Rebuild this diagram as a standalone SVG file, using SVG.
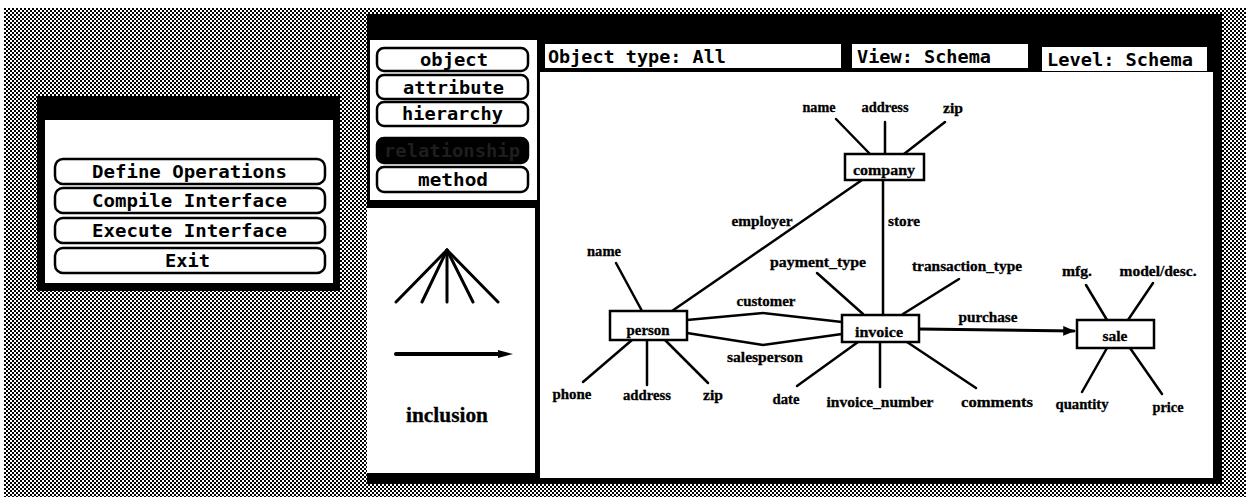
<svg xmlns="http://www.w3.org/2000/svg" width="1246" height="497" viewBox="0 0 1246 497">
  <defs>
    <!-- halftone desktop background -->
    <pattern id="dither" width="4" height="4" patternUnits="userSpaceOnUse">
      <rect width="4" height="4" fill="#ffffff"/>
      <rect width="2" height="2" fill="#000000"/>
      <rect x="2" y="2" width="2" height="2" fill="#000000"/>
    </pattern>
    <marker id="head" viewBox="0 0 10 10" refX="9" refY="5" markerWidth="4" markerHeight="4" orient="auto" markerUnits="strokeWidth">
      <path d="M0,1 L10,5 L0,9 Z" fill="#000"/>
    </marker>
    <style>
      .btn { fill: #fff; stroke: #000; stroke-width: 2.5; }
      .btn-on { fill: #000; stroke: #000; stroke-width: 2.5; }
      .mono { font-family: "DejaVu Sans Mono", "Liberation Mono", monospace; font-weight: bold; font-size: 17px; fill: #000; }
      .lbl { font-family: "Liberation Serif", "DejaVu Serif", serif; font-weight: bold; font-size: 15px; fill: #000; stroke: #000; stroke-width: 0.3; text-anchor: middle; }
      .ent { fill: #fff; stroke: #000; stroke-width: 2.5; }
      .edge { stroke: #000; stroke-width: 2.5; fill: none; stroke-linecap: round; }
      .panel { fill: #fff; }
    </style>
  </defs>

  <!-- desktop -->
  <rect x="0" y="0" width="1246" height="497" fill="#fff"/>
  <rect x="4" y="8" width="1242" height="489" fill="url(#dither)"/>

  <!-- small control window -->
  <g id="control-window">
    <rect x="37" y="96" width="303" height="195" fill="#000"/>
    <rect x="45" y="120" width="288" height="163" class="panel"/>
    <g id="btn-define">
      <rect x="55" y="159" width="270" height="25" rx="8" class="btn"/>
      <text x="92" y="178" class="mono" textLength="195" lengthAdjust="spacingAndGlyphs">Define Operations</text>
    </g>
    <g id="btn-compile">
      <rect x="55" y="188" width="270" height="25" rx="8" class="btn"/>
      <text x="92" y="207" class="mono" textLength="195" lengthAdjust="spacingAndGlyphs">Compile Interface</text>
    </g>
    <g id="btn-execute">
      <rect x="55" y="218" width="270" height="25" rx="8" class="btn"/>
      <text x="92" y="237" class="mono" textLength="195" lengthAdjust="spacingAndGlyphs">Execute Interface</text>
    </g>
    <g id="btn-exit">
      <rect x="55" y="248" width="270" height="25" rx="8" class="btn"/>
      <text x="165" y="267" class="mono" textLength="45" lengthAdjust="spacingAndGlyphs">Exit</text>
    </g>
  </g>

  <!-- main schema window -->
  <g id="schema-window">
    <rect x="367" y="14" width="855" height="470" fill="#000"/>

    <!-- tool palette -->
    <rect x="370" y="40" width="167" height="160" class="panel"/>
    <g id="tool-object">
      <rect x="377" y="48" width="151" height="23" rx="7" class="btn"/>
      <text x="420" y="66" class="mono" textLength="68" lengthAdjust="spacingAndGlyphs">object</text>
    </g>
    <g id="tool-attribute">
      <rect x="377" y="75" width="151" height="24" rx="7" class="btn"/>
      <text x="403" y="94" class="mono" textLength="101" lengthAdjust="spacingAndGlyphs">attribute</text>
    </g>
    <g id="tool-hierarchy">
      <rect x="377" y="102" width="151" height="24" rx="7" class="btn"/>
      <text x="402" y="120" class="mono" textLength="101" lengthAdjust="spacingAndGlyphs">hierarchy</text>
    </g>
    <g id="tool-relationship">
      <rect x="377" y="138" width="151" height="25" rx="7" class="btn-on"/>
      <text x="384" y="157" class="mono" style="fill:#1e1e1e" textLength="136" lengthAdjust="spacingAndGlyphs">relationship</text>
    </g>
    <g id="tool-method">
      <rect x="377" y="167" width="151" height="25" rx="7" class="btn"/>
      <text x="418" y="186" class="mono" textLength="70" lengthAdjust="spacingAndGlyphs">method</text>
    </g>
    <!-- mouse pointer -->
    <path d="M540,156 L549,165 L544,166 L542,171 Z" fill="#000"/>

    <!-- legend panel -->
    <rect x="367" y="208" width="168" height="265" class="panel"/>
    <g id="legend" stroke="#000" stroke-width="3" stroke-linecap="round" fill="none">
      <line x1="447" y1="250" x2="396" y2="302"/>
      <line x1="447" y1="250" x2="422" y2="302"/>
      <line x1="447" y1="250" x2="447" y2="302"/>
      <line x1="447" y1="250" x2="473" y2="302"/>
      <line x1="447" y1="250" x2="498" y2="302"/>
      <line x1="396" y1="354" x2="500" y2="354" stroke-width="4"/>
    </g>
    <path d="M498,350 L513,354 L498,358 Z" fill="#000"/>
    <text x="447" y="422" class="lbl" style="font-size:22px" textLength="82" lengthAdjust="spacingAndGlyphs">inclusion</text>

    <!-- status fields -->
    <g id="field-object-type">
      <rect x="544" y="43" width="298" height="26" fill="#fff" stroke="#000" stroke-width="2"/>
      <text x="548" y="63" class="mono" textLength="178" lengthAdjust="spacingAndGlyphs">Object type: All</text>
    </g>
    <g id="field-view">
      <rect x="851" y="43" width="178" height="26" fill="#fff" stroke="#000" stroke-width="2"/>
      <text x="857" y="63" class="mono" textLength="134" lengthAdjust="spacingAndGlyphs">View: Schema</text>
    </g>
    <g id="field-level">
      <rect x="1041" y="46" width="167" height="26" fill="#fff" stroke="#000" stroke-width="2"/>
      <text x="1047" y="66" class="mono" textLength="146" lengthAdjust="spacingAndGlyphs">Level: Schema</text>
    </g>

    <!-- schema canvas -->
    <rect x="540" y="72" width="673" height="406" class="panel"/>
  </g>

  <!-- connectors -->
  <g id="connectors" class="edge">
    <!-- company attributes -->
    <line x1="836" y1="119" x2="870" y2="154"/>
    <line x1="885" y1="122" x2="885" y2="154"/>
    <line x1="945" y1="122" x2="904" y2="154"/>
    <!-- employer / store -->
    <line x1="862" y1="180" x2="672" y2="311"/>
    <line x1="883" y1="180" x2="883" y2="315"/>
    <!-- person attributes -->
    <line x1="616" y1="263" x2="642" y2="311"/>
    <line x1="583" y1="382" x2="632" y2="340"/>
    <line x1="647" y1="340" x2="647" y2="385"/>
    <line x1="665" y1="340" x2="708" y2="383"/>
    <!-- customer / salesperson -->
    <polyline points="687,320 763,313 842,322"/>
    <polyline points="687,333 763,345 842,334"/>
    <!-- invoice attributes -->
    <line x1="817" y1="273" x2="863" y2="314"/>
    <line x1="959" y1="279" x2="903" y2="314"/>
    <line x1="797" y1="386" x2="858" y2="342"/>
    <line x1="880" y1="342" x2="880" y2="387"/>
    <line x1="907" y1="342" x2="976" y2="388"/>
    <!-- purchase -->
    <line x1="919" y1="329" x2="1074" y2="331" stroke-width="3" marker-end="url(#head)"/>
    <!-- sale attributes -->
    <line x1="1086" y1="285" x2="1107" y2="320"/>
    <line x1="1153" y1="283" x2="1128" y2="320"/>
    <line x1="1082" y1="392" x2="1107" y2="348"/>
    <line x1="1162" y1="394" x2="1130" y2="348"/>
  </g>

  <!-- relationship labels -->
  <g id="edge-labels">
    <text x="762" y="226" class="lbl" textLength="61" lengthAdjust="spacingAndGlyphs">employer</text>
    <text x="904" y="226" class="lbl" textLength="32" lengthAdjust="spacingAndGlyphs">store</text>
    <text x="766" y="306" class="lbl" textLength="59" lengthAdjust="spacingAndGlyphs">customer</text>
    <text x="765" y="362" class="lbl" textLength="76" lengthAdjust="spacingAndGlyphs">salesperson</text>
    <text x="988" y="322" class="lbl" textLength="59" lengthAdjust="spacingAndGlyphs">purchase</text>
  </g>

  <!-- entities -->
  <g id="company">
    <rect x="845" y="154" width="79" height="26" class="ent"/>
    <text x="884" y="175" class="lbl" textLength="62" lengthAdjust="spacingAndGlyphs">company</text>
  </g>
  <g id="person">
    <rect x="610" y="311" width="77" height="29" class="ent"/>
    <text x="648" y="335" class="lbl" textLength="43" lengthAdjust="spacingAndGlyphs">person</text>
  </g>
  <g id="invoice">
    <rect x="842" y="315" width="77" height="27" class="ent"/>
    <text x="879" y="337" class="lbl" textLength="48" lengthAdjust="spacingAndGlyphs">invoice</text>
  </g>
  <g id="sale">
    <rect x="1077" y="320" width="77" height="28" class="ent"/>
    <text x="1115" y="341" class="lbl" textLength="25" lengthAdjust="spacingAndGlyphs">sale</text>
  </g>

  <!-- attributes -->
  <g id="company-attrs">
    <text x="819" y="112" class="lbl" textLength="33" lengthAdjust="spacingAndGlyphs">name</text>
    <text x="885" y="112" class="lbl" textLength="47" lengthAdjust="spacingAndGlyphs">address</text>
    <text x="953" y="113" class="lbl" textLength="20" lengthAdjust="spacingAndGlyphs">zip</text>
  </g>
  <g id="person-attrs">
    <text x="604" y="256" class="lbl" textLength="34" lengthAdjust="spacingAndGlyphs">name</text>
    <text x="572" y="399" class="lbl" textLength="39" lengthAdjust="spacingAndGlyphs">phone</text>
    <text x="647" y="400" class="lbl" textLength="48" lengthAdjust="spacingAndGlyphs">address</text>
    <text x="713" y="400" class="lbl" textLength="20" lengthAdjust="spacingAndGlyphs">zip</text>
  </g>
  <g id="invoice-attrs">
    <text x="818" y="267" class="lbl" textLength="96" lengthAdjust="spacingAndGlyphs">payment_type</text>
    <text x="967" y="271" class="lbl" textLength="110" lengthAdjust="spacingAndGlyphs">transaction_type</text>
    <text x="786" y="404" class="lbl" textLength="27" lengthAdjust="spacingAndGlyphs">date</text>
    <text x="880" y="407" class="lbl" textLength="107" lengthAdjust="spacingAndGlyphs">invoice_number</text>
    <text x="997" y="407" class="lbl" textLength="72" lengthAdjust="spacingAndGlyphs">comments</text>
  </g>
  <g id="sale-attrs">
    <text x="1077" y="276" class="lbl" textLength="30" lengthAdjust="spacingAndGlyphs">mfg.</text>
    <text x="1158" y="276" class="lbl" textLength="77" lengthAdjust="spacingAndGlyphs">model/desc.</text>
    <text x="1082" y="409" class="lbl" textLength="53" lengthAdjust="spacingAndGlyphs">quantity</text>
    <text x="1168" y="412" class="lbl" textLength="31" lengthAdjust="spacingAndGlyphs">price</text>
  </g>
</svg>
